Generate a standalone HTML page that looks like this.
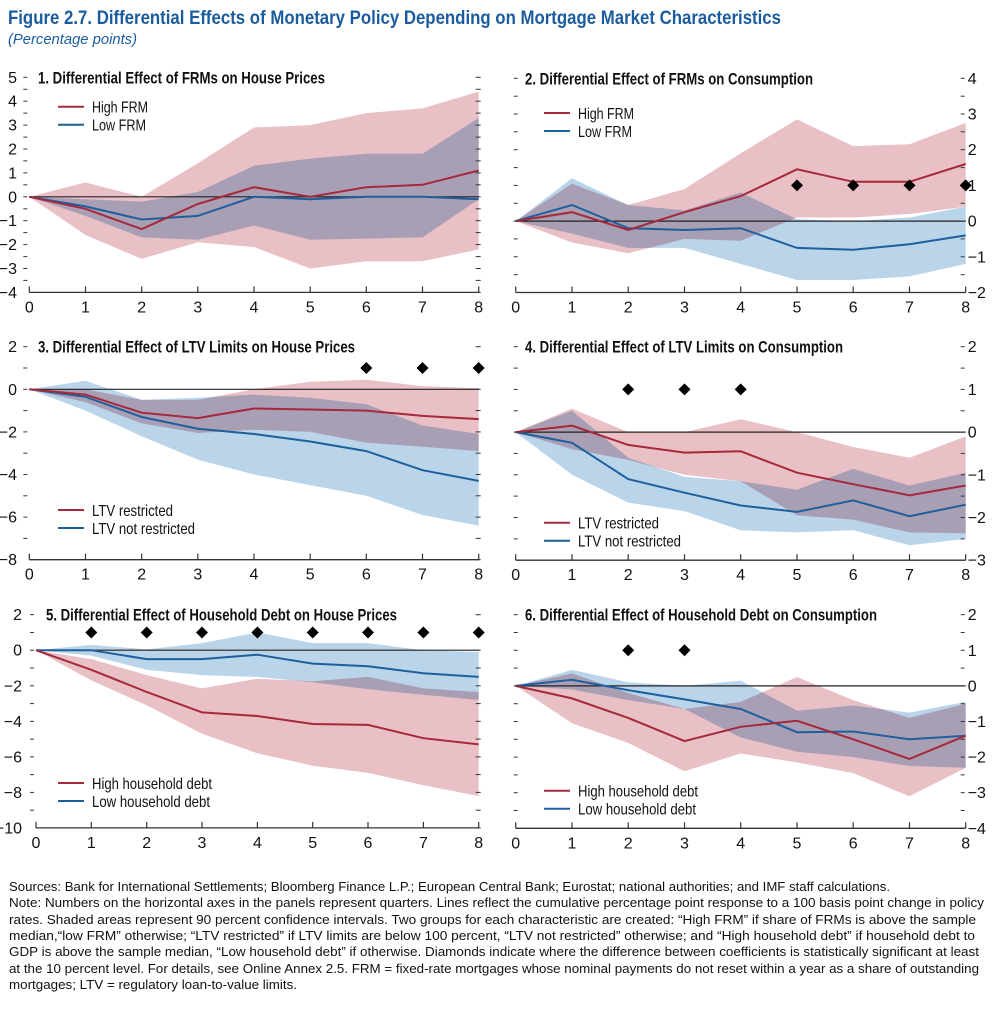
<!DOCTYPE html>
<html><head><meta charset="utf-8">
<style>
html,body{margin:0;padding:0;background:#fff;}
svg{display:block;}
text{font-family:"Liberation Sans Narrow","Liberation Sans",sans-serif;}
</style></head>
<body>
<svg id="s" width="1000" height="1010" viewBox="0 0 1000 1010" xmlns="http://www.w3.org/2000/svg">
<text x="8" y="24" font-size="19" font-weight="bold" fill="#1b5c9e" textLength="773" lengthAdjust="spacingAndGlyphs">Figure 2.7.  Differential Effects of Monetary Policy Depending on Mortgage Market Characteristics</text>
<text x="8" y="44" font-size="15" font-style="italic" fill="#1b5c9e" textLength="129" lengthAdjust="spacingAndGlyphs">(Percentage points)</text>
<g id="charts"></g>
<g font-size="13" fill="#111">
<text x="9" y="891" textLength="881" lengthAdjust="spacingAndGlyphs">Sources: Bank for International Settlements; Bloomberg Finance L.P.; European Central Bank; Eurostat; national authorities; and IMF staff calculations.</text>
<text x="9" y="907" textLength="975" lengthAdjust="spacingAndGlyphs">Note: Numbers on the horizontal axes in the panels represent quarters. Lines reflect the cumulative percentage point response to a 100 basis point change in policy</text>
<text x="9" y="924" textLength="967" lengthAdjust="spacingAndGlyphs">rates. Shaded areas represent 90 percent confidence intervals. Two groups for each characteristic are created: “High FRM” if share of FRMs is above the sample</text>
<text x="9" y="940" textLength="966" lengthAdjust="spacingAndGlyphs">median,“low FRM” otherwise; “LTV restricted” if LTV limits are below 100 percent, “LTV not restricted” otherwise; and “High household debt” if household debt to</text>
<text x="9" y="956" textLength="970" lengthAdjust="spacingAndGlyphs">GDP is above the sample median, “Low household debt” if otherwise. Diamonds indicate where the difference between coefficients is statistically significant at least</text>
<text x="9" y="973" textLength="970" lengthAdjust="spacingAndGlyphs">at the 10 percent level. For details, see Online Annex 2.5. FRM = fixed-rate mortgages whose nominal payments do not reset within a year as a share of outstanding</text>
<text x="9" y="989" textLength="288" lengthAdjust="spacingAndGlyphs">mortgages; LTV = regulatory loan-to-value limits.</text>
</g>
</svg>
<script>
var P=[
{x0:29.3,x8:478.7,vt:5,yt:77.3,ppu:23.9,vmin:-4,step:1,minor:0.5,side:'L',lblEnd:17,
 title:"1. Differential Effect of FRMs on House Prices",tx:38,tw:287,
 leg:["High FRM","Low FRM"],lw:[56,54],lx:58,ly:106.7,
 r:[0,-0.5,-1.35,-0.3,0.4,0,0.4,0.5,1.1],b:[0,-0.4,-0.95,-0.8,0,-0.1,0,0,-0.1],
 ru:[0,0.6,0,1.4,2.9,3.0,3.5,3.7,4.4],rl:[0,-1.6,-2.6,-1.9,-2.1,-3.0,-2.7,-2.7,-2.2],
 bu:[0,-0.1,-0.2,0.2,1.3,1.6,1.8,1.8,3.3],bl:[0,-0.8,-1.7,-1.8,-1.2,-1.8,-1.75,-1.7,-0.1],d:[],dv:0},
{x0:515.7,x8:965.7,vt:4,yt:78.3,ppu:35.7,vmin:-2,step:1,minor:0.5,side:'R',
 title:"2. Differential Effect of FRMs on Consumption",tx:525,tw:288,
 leg:["High FRM","Low FRM"],lw:[56,54],lx:544,ly:113,
 r:[0,0.25,-0.25,0.25,0.7,1.45,1.1,1.1,1.6],b:[0,0.45,-0.2,-0.25,-0.2,-0.75,-0.8,-0.65,-0.4],
 ru:[0,1.05,0.45,0.9,1.9,2.85,2.1,2.15,2.75],rl:[0,-0.6,-0.9,-0.5,-0.55,0.1,0.1,0.2,0.4],
 bu:[0,1.2,0.45,0.3,0.8,0.05,0,0.1,0.4],bl:[0,-0.35,-0.75,-0.75,-1.2,-1.65,-1.65,-1.55,-1.2],d:[5,6,7,8],dv:1},
{x0:29.3,x8:478.7,vt:2,yt:346.7,ppu:21.3,vmin:-8,step:2,minor:1,side:'L',lblEnd:17,
 title:"3. Differential Effect of LTV Limits on House Prices",tx:38,tw:317,
 leg:["LTV restricted","LTV not restricted"],lw:[81,103],lx:58,ly:510,
 r:[0,-0.25,-1.1,-1.35,-0.9,-0.95,-1.0,-1.25,-1.4],b:[0,-0.35,-1.3,-1.85,-2.1,-2.45,-2.9,-3.8,-4.3],
 ru:[0,0,-0.5,-0.5,0,0.35,0.45,0.15,0.05],rl:[0,-0.6,-1.6,-2.05,-1.9,-2.0,-2.5,-2.7,-2.9],
 bu:[0,0.4,-0.5,-0.4,-0.25,-0.4,-0.7,-1.7,-2.1],bl:[0,-1.0,-2.2,-3.3,-4.0,-4.5,-5.0,-5.9,-6.4],d:[6,7,8],dv:1},
{x0:515.7,x8:965.7,vt:2,yt:346.7,ppu:42.7,vmin:-3,step:1,minor:0.5,side:'R',
 title:"4. Differential Effect of LTV Limits on Consumption",tx:525,tw:318,
 leg:["LTV restricted","LTV not restricted"],lw:[81,103],lx:544,ly:522.7,
 r:[0,0.15,-0.3,-0.48,-0.45,-0.95,-1.22,-1.48,-1.25],b:[0,-0.25,-1.1,-1.42,-1.72,-1.87,-1.6,-1.97,-1.7],
 ru:[0,0.55,0,0,0.3,0,-0.35,-0.6,-0.1],rl:[0,-0.4,-0.65,-1.0,-1.15,-1.95,-2.05,-2.35,-2.37],
 bu:[0,0.5,-0.6,-1.05,-1.15,-1.35,-0.86,-1.25,-0.95],bl:[0,-1.0,-1.65,-1.85,-2.3,-2.35,-2.3,-2.65,-2.5],d:[2,3,4],dv:1},
{x0:36,x8:478.7,vt:2,yt:614.7,ppu:17.77,vmin:-10,step:2,minor:1,side:'L',lblEnd:22,
 title:"5. Differential Effect of Household Debt on House Prices",tx:46,tw:351,
 leg:["High household debt","Low household debt"],lw:[120,118],lx:58,ly:783,
 r:[0,-1.1,-2.35,-3.5,-3.7,-4.15,-4.2,-4.95,-5.3],b:[0,0,-0.5,-0.5,-0.25,-0.75,-0.9,-1.3,-1.5],
 ru:[0,-0.5,-1.4,-2.15,-1.6,-1.75,-1.5,-2.15,-2.35],rl:[0,-1.7,-3.1,-4.7,-5.8,-6.5,-6.9,-7.6,-8.2],
 bu:[0,0.3,0.05,0.4,1.0,0.4,0.4,0,-0.1],bl:[0,-0.3,-1.1,-1.4,-1.5,-1.8,-2.2,-2.5,-2.8],d:[1,2,3,4,5,6,7,8],dv:1},
{x0:515.7,x8:965.7,vt:2,yt:614.7,ppu:35.6,vmin:-4,step:1,minor:0.5,side:'R',
 title:"6. Differential Effect of Household Debt on Consumption",tx:525,tw:352,
 leg:["High household debt","Low household debt"],lw:[120,118],lx:544,ly:790.7,
 r:[0,-0.35,-0.9,-1.55,-1.15,-0.98,-1.5,-2.05,-1.4],b:[0,0.17,-0.12,-0.38,-0.65,-1.3,-1.28,-1.5,-1.4],
 ru:[0,0.35,-0.2,-0.65,-0.45,0.25,-0.4,-0.9,-0.5],rl:[0,-1.05,-1.6,-2.4,-1.9,-2.15,-2.45,-3.1,-2.3],
 bu:[0,0.45,0.1,0,0.15,-0.7,-0.55,-0.75,-0.45],bl:[0,-0.1,-0.4,-0.65,-1.45,-1.85,-2.0,-2.25,-2.3],d:[2,3],dv:1}
];
var RED="#a6283b",BLUE="#1e5f9e",PINK="#e8c0c6",LB="#bad4ea";
var out="";
function f(n){return n.toFixed(1);}
P.forEach(function(p){
 var X=function(i){return p.x0+(p.x8-p.x0)*i/8;};
 var Y=function(v){return p.yt+(p.vt-v)*p.ppu;};
 var yb=Y(p.vmin);
 function band(u,l,c,blend){var s="";for(var i=0;i<9;i++)s+=(i?"L":"M")+f(X(i))+","+f(Y(u[i]));for(var i=8;i>=0;i--)s+="L"+f(X(i))+","+f(Y(l[i]));
  return '<path d="'+s+'Z" fill="'+c+'"'+(blend?' style="mix-blend-mode:multiply"':'')+'/>';}
 function line(a,c){var s="";for(var i=0;i<9;i++)s+=(i?"L":"M")+f(X(i))+","+f(Y(a[i]));return '<path d="'+s+'" fill="none" stroke="'+c+'" stroke-width="2"/>';}
 out+=band(p.bu,p.bl,LB,false)+band(p.ru,p.rl,PINK,true);
 out+='<line x1="'+p.x0+'" x2="'+p.x8+'" y1="'+f(Y(0))+'" y2="'+f(Y(0))+'" stroke="#222" stroke-width="1.2"/>';
 out+=line(p.b,BLUE)+line(p.r,RED);
 out+='<line x1="'+p.x0+'" x2="'+p.x8+'" y1="'+f(yb)+'" y2="'+f(yb)+'" stroke="#333" stroke-width="1.3"/>';
 for(var i=0;i<9;i++){out+='<line x1="'+f(X(i))+'" x2="'+f(X(i))+'" y1="'+f(yb)+'" y2="'+f(yb-6)+'" stroke="#333" stroke-width="1.2"/>';
  out+='<text x="'+f(X(i))+'" y="'+f(yb+20)+'" font-size="16" text-anchor="middle" fill="#111">'+i+'</text>';}
 for(var v=p.vt;v>=p.vmin-1e-6;v-=p.minor){
  var y=Y(v),maj=Math.abs(v/p.step-Math.round(v/p.step))<1e-6;
  var lab=(v<0?"\u2212"+(-v):v);
  if(p.side==='L'){
   if(v>p.vmin+1e-6) out+='<line x1="'+f(p.x0-6)+'" x2="'+f(p.x0-2)+'" y1="'+f(y)+'" y2="'+f(y)+'" stroke="#333" stroke-width="1"/>';
   out+='<line x1="'+f(p.x8-3)+'" x2="'+f(p.x8+2)+'" y1="'+f(y)+'" y2="'+f(y)+'" stroke="#333" stroke-width="1"/>';
   if(maj) out+='<text x="'+(p.lblEnd)+'" y="'+f(y+5.5)+'" font-size="16" text-anchor="end" fill="#111">'+lab+'</text>';
  } else {
   if(v>p.vmin+1e-6) out+='<line x1="'+f(p.x0-2)+'" x2="'+f(p.x0+2)+'" y1="'+f(y)+'" y2="'+f(y)+'" stroke="#333" stroke-width="1"/>';
   out+='<line x1="'+f(p.x8-5)+'" x2="'+f(p.x8-1)+'" y1="'+f(y)+'" y2="'+f(y)+'" stroke="#333" stroke-width="1"/>';
   if(maj) out+='<text x="'+f(p.x8+2)+'" y="'+f(y+5.5)+'" font-size="16" fill="#111">'+lab+'</text>';
  }
 }
 out+='<rect x="'+(p.tx-2)+'" y="'+f(p.yt-10)+'" width="'+(p.tw+4)+'" height="18" fill="#fff"/>';
 out+='<text x="'+p.tx+'" y="'+f(p.yt+6)+'" font-size="17" font-weight="bold" fill="#111" textLength="'+p.tw+'" lengthAdjust="spacingAndGlyphs">'+p.title+'</text>';
 [RED,BLUE].forEach(function(c,k){var ly=p.ly+k*18;
  out+='<line x1="'+p.lx+'" x2="'+(p.lx+26)+'" y1="'+ly+'" y2="'+ly+'" stroke="'+c+'" stroke-width="2"/>';
  out+='<text x="'+(p.lx+34)+'" y="'+(ly+6)+'" font-size="16" fill="#111" textLength="'+p.lw[k]+'" lengthAdjust="spacingAndGlyphs">'+p.leg[k]+'</text>';});
 p.d.forEach(function(i){var x=X(i),y=Y(p.dv);out+='<path d="M'+f(x)+','+f(y-6)+'L'+f(x+6)+','+f(y)+'L'+f(x)+','+f(y+6)+'L'+f(x-6)+','+f(y)+'Z" fill="#000"/>';});
});
document.getElementById("charts").innerHTML=out;
</script>
</body></html>
